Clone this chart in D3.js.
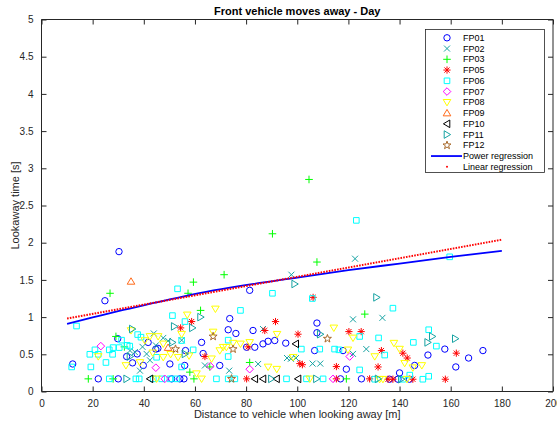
<!DOCTYPE html>
<html><head><meta charset="utf-8">
<script src="https://cdn.jsdelivr.net/npm/d3@7"></script>
<style>body{margin:0;background:#fff}svg{display:block;font-family:"Liberation Sans",Arial,sans-serif}</style>
</head><body><svg id="c" width="557" height="424"></svg>
<script>
const title = "Front vehicle moves away - Day";
const xLabel = "Distance to vehicle when looking away [m]";
const yLabel = "Lookaway time [s]";
const xTicks = [0,20,40,60,80,100,120,140,160,180,200];
const yTicks = [0,0.5,1,1.5,2,2.5,3,3.5,4,4.5,5];
const seriesNames = ["FP01","FP02","FP03","FP05","FP06","FP07","FP08","FP09","FP10","FP11","FP12"];

const FP01 = [[30.3,1.88],[24.8,1.22],[81.4,1.36],[107.7,0.92],[73.6,0.98],[73,0.83],[82.7,0.82],[76,0.78],[107.7,0.79],[88.6,0.675],[91.2,0.685],[95.5,0.65],[62.6,0.66],[106.8,0.55],[117.9,0.55],[69.7,0.35],[56,0.35],[56.3,0.55],[63.2,0.51],[119.2,0.30],[12.2,0.37],[29.8,0.71],[41.7,0.66],[33.3,0.47],[35.6,0.385],[39.8,0.35],[44.7,0.57],[37.4,0.505],[50.2,0.37],[157.7,0.57],[151.1,0.49],[172.6,0.55],[167,0.45],[145.9,0.35],[162,0.33],[140,0.25],[54.1,0.17],[116.9,0.17],[125.1,0.17],[136.1,0.165],[139.4,0.165],[143.9,0.165],[22.2,0.17],[30,0.17],[50.9,0.17],[55.7,0.17],[86.6,0.64],[83.4,0.595],[80.2,0.595],[45.5,0.58]];
const FP02 = [[122.6,1.785],[97.7,1.57],[133.3,0.99],[121.8,0.97],[86.6,0.84],[127,0.57],[96,0.45],[97.5,0.44],[99.5,0.45],[106,0.375],[109,0.375],[121.8,0.505],[84.7,0.37],[73.4,0.28],[63.9,0.35],[54.8,0.69],[43.9,0.78],[47.6,0.72],[44.7,0.62],[34.6,0.55],[36.5,0.53],[41.1,0.505],[42.4,0.42],[38.5,0.28],[49.5,0.68],[39.5,0.6]];
const FP03 = [[104.6,2.85],[90.3,2.12],[107.7,1.74],[71.4,1.57],[59.4,1.47],[57.3,1.32],[26.8,1.32],[62.2,1.09],[126.4,1.04],[29.1,0.74],[32.4,0.60],[81.4,0.39],[65.8,0.33],[58,0.26],[18.3,0.17],[28,0.17],[59.6,0.17],[119.2,0.17]];
const FP05 = [[106.2,1.265],[58.7,0.94],[91.5,0.94],[54.4,0.855],[87.3,0.82],[100.3,0.77],[120.2,0.805],[125,0.805],[80.8,0.60],[63.9,0.47],[101,0.375],[102,0.36],[115.3,0.335],[132.9,0.55],[162.2,0.515],[141.3,0.515],[143,0.45],[131.6,0.33],[80.2,0.17],[115.3,0.17],[128.3,0.17],[135.5,0.165],[137.4,0.165],[145.2,0.165],[157.9,0.165]];
const FP06 = [[123.1,2.30],[159.6,1.81],[53.2,1.38],[90.3,1.32],[105.9,1.25],[137.4,1.12],[77.8,1.09],[51.2,1.02],[56.1,0.94],[13.7,0.88],[124.4,0.74],[54.8,0.685],[73,0.69],[101.6,0.57],[108.8,0.57],[114.6,0.57],[116.3,0.56],[59.3,0.56],[124.4,0.29],[73,0.47],[151.4,0.83],[131.8,0.72],[145.4,0.66],[154.4,0.61],[134.2,0.49],[144,0.22],[151.4,0.205],[37.6,0.765],[38.9,0.73],[31.3,0.69],[30.4,0.59],[28,0.59],[26.5,0.56],[27.8,0.50],[25.2,0.39],[20.9,0.56],[22.2,0.50],[18.9,0.50],[19.3,0.33],[11.8,0.33],[45,0.46],[54.8,0.33],[26.5,0.17],[36.9,0.17],[38.2,0.17],[43.7,0.17],[47,0.17],[50.2,0.17],[52.8,0.17],[68.4,0.17],[73,0.17],[75.6,0.17],[95.8,0.17],[103.6,0.17],[110.1,0.17],[130.3,0.165],[141.3,0.165],[149.1,0.165],[33.5,0.62],[34.5,0.61]];
const FP07 = [[23.2,0.61],[44.7,0.32],[120.5,0.47],[81.4,0.30],[48.2,0.17],[66,0.34],[114,0.17]];
const FP08 = [[68,1.11],[57,1.03],[114.3,0.855],[92.1,0.77],[121.8,0.72],[67.1,0.80],[119.8,0.56],[130.3,0.47],[88.6,0.33],[66.5,0.44],[60.6,0.24],[57.7,0.48],[54.8,0.77],[137.8,0.65],[140,0.57],[142,0.38],[145.2,0.32],[148.7,0.35],[35,0.82],[40.4,0.685],[42.4,0.74],[45.6,0.74],[47.6,0.64],[47.6,0.46],[53.4,0.46],[38.5,0.39],[33,0.35],[22.2,0.47],[81.4,0.66],[77.8,0.64],[74.9,0.65],[72.3,0.595],[71,0.595],[69.7,0.55],[92,0.3],[98.4,0.46],[45,0.17],[62.6,0.17],[104.9,0.17],[132.2,0.165],[133.5,0.165],[142.9,0.165],[43.5,0.52],[50.5,0.5]];
const FP09 = [[35,1.48],[49.5,0.59]];
const FP10 = [[99.4,0.64],[42.4,0.17],[83.4,0.17],[86.6,0.17],[91.9,0.17],[100.3,0.17]];
const FP11 = [[99,1.445],[131,1.265],[35.5,0.84],[51.9,0.875],[51.2,0.66],[62.2,1.0],[59,0.855],[109,0.77],[56.1,0.505],[34.6,0.47],[152.8,0.74],[151,0.66],[161.8,0.71],[33.3,0.17],[89.9,0.17],[107.5,0.17],[131.6,0.17],[140.7,0.165]];
const FP12 = [[52.4,0.57],[67.1,0.74],[111.8,0.71],[74.9,0.57],[74.3,0.17]];

const powerX = [10,20,30,44,57,81,100,120,140,160,180];
const powerY = [0.91,0.995,1.08,1.19,1.29,1.435,1.53,1.63,1.72,1.81,1.89];
const linearX = [10,180];
const linearY = [0.98,2.04];

const seriesData = [FP01,FP02,FP03,FP05,FP06,FP07,FP08,FP09,FP10,FP11,FP12];
const seriesColor = ["#0000ff","#17a3a3","#00ff00","#ff0000","#00ffff","#ff00ff","#ffff00","#ff6a1a","#000000","#17a3a3","#a86a2c"];
const seriesMarker = ["circle","x","plus","asterisk","square","diamond","tridown","triup","trileft","triright","star"];

function markerPath(t){
  switch(t){
    case "circle": return "M3.2,0A3.2,3.2 0 1,1 -3.2,0A3.2,3.2 0 1,1 3.2,0Z";
    case "x": return "M-3,-3L3,3M-3,3L3,-3";
    case "plus": return "M-3.8,0L3.8,0M0,-3.8L0,3.8";
    case "asterisk": return "M-3.6,0L3.6,0M0,-3.6L0,3.6M-2.6,-2.6L2.6,2.6M-2.6,2.6L2.6,-2.6";
    case "square": return "M-2.8,-2.8L2.8,-2.8L2.8,2.8L-2.8,2.8Z";
    case "diamond": return "M0,-3.8L3.8,0L0,3.8L-3.8,0Z";
    case "tridown": return "M-3.8,-2.8L3.8,-2.8L0,3.6Z";
    case "triup": return "M-3.8,2.8L3.8,2.8L0,-3.6Z";
    case "trileft": return "M2.8,-3.8L2.8,3.8L-3.6,0Z";
    case "triright": return "M-2.8,-3.8L-2.8,3.8L3.6,0Z";
    case "star": {
      let p=[];for(let i=0;i<10;i++){const r=i%2?1.7:4.2;const a=-Math.PI/2+i*Math.PI/5;p.push([r*Math.cos(a),r*Math.sin(a)]);}
      return "M"+p.map(d=>d[0].toFixed(2)+","+d[1].toFixed(2)).join("L")+"Z";
    }
  }
}

const svg = d3.select("#c");
const L=41.5,R=553,T=19.5,B=391.5;
const x = d3.scaleLinear().domain([0,200]).range([L,R]);
const y = d3.scaleLinear().domain([0,5]).range([B,T]);
const axisCol="#262626";

svg.append("defs").append("clipPath").attr("id","clip").append("rect").attr("x",L).attr("y",T).attr("width",R-L).attr("height",B-T);

const gx = svg.append("g").attr("transform",`translate(0,${B})`)
  .call(d3.axisBottom(x).tickValues(xTicks).tickSize(-5).tickPadding(8).tickFormat(d3.format("d")));
const gxt = svg.append("g").attr("transform",`translate(0,${T})`)
  .call(d3.axisTop(x).tickValues(xTicks).tickSize(-5).tickFormat(""));
const gy = svg.append("g").attr("transform",`translate(${L},0)`)
  .call(d3.axisLeft(y).tickValues(yTicks).tickSize(-5).tickPadding(8).tickFormat(d=>String(d)));
const gyr = svg.append("g").attr("transform",`translate(${R},0)`)
  .call(d3.axisRight(y).tickValues(yTicks).tickSize(-5).tickFormat(""));
[gx,gxt,gy,gyr].forEach(g=>{
  g.selectAll("path.domain").attr("stroke",axisCol).attr("stroke-width",1);
  g.selectAll("line").attr("stroke",axisCol);
  g.selectAll("text").attr("fill",axisCol).attr("font-size",10).attr("font-family","Liberation Sans, Arial, sans-serif");
});
gx.selectAll(".domain").attr("d",`M${L},0H${R}`);
gxt.selectAll(".domain").attr("d",`M${L},0H${R}`);
gy.selectAll(".domain").attr("d",`M0,${B}V${T}`);
gyr.selectAll(".domain").attr("d",`M0,${B}V${T}`);
gx.selectAll("text").attr("dy","0.71em").attr("y",8);

svg.append("text").attr("x",(L+R)/2).attr("y",15).attr("text-anchor","middle")
  .attr("font-size",11).attr("font-weight","bold").attr("fill","#000").text(title);
svg.append("text").attr("x",(L+R)/2).attr("y",418).attr("text-anchor","middle")
  .attr("font-size",11).attr("fill",axisCol).text(xLabel);
svg.append("text").attr("transform",`translate(19,${(T+B)/2}) rotate(-90)`).attr("text-anchor","middle")
  .attr("font-size",11).attr("fill",axisCol).text(yLabel);

const plot = svg.append("g").attr("clip-path","url(#clip)");
seriesData.forEach((data,i)=>{
  plot.append("g").selectAll("path").data(data).join("path")
    .attr("transform",d=>`translate(${x(d[0])},${y(d[1])})`)
    .attr("d",markerPath(seriesMarker[i]))
    .attr("fill","none").attr("stroke",seriesColor[i]).attr("stroke-width",1);
});

const powerPts = powerX.map((v,i)=>[v,powerY[i]]);
const linPts = linearX.map((v,i)=>[v,linearY[i]]);
plot.append("path").datum(powerPts)
  .attr("d",d3.line().x(d=>x(d[0])).y(d=>y(d[1])).curve(d3.curveMonotoneX))
  .attr("fill","none").attr("stroke","#0000ff").attr("stroke-width",1.8);
plot.append("path").datum(linPts)
  .attr("d",d3.line().x(d=>x(d[0])).y(d=>y(d[1])))
  .attr("fill","none").attr("stroke","#ff0000").attr("stroke-width",2).attr("stroke-dasharray","1.6,1.2");

const lg = svg.append("g");
lg.append("rect").attr("x",425.5).attr("y",29.5).attr("width",119).attr("height",143)
  .attr("fill","#fff").attr("stroke",axisCol).attr("stroke-width",0.8);
const legendNames = seriesNames.concat(["Power regression","Linear regression"]);
legendNames.forEach((n,i)=>{
  const yy = 37.8 + i*10.75;
  if(i<seriesNames.length){
    lg.append("path").attr("transform",`translate(447,${yy})`).attr("d",markerPath(seriesMarker[i]))
      .attr("fill","none").attr("stroke",seriesColor[i]).attr("stroke-width",1);
  } else if(n==="Power regression"){
    lg.append("line").attr("x1",431).attr("x2",462).attr("y1",yy).attr("y2",yy).attr("stroke","#0000ff").attr("stroke-width",1.8);
  } else {
    lg.append("circle").attr("cx",447).attr("cy",yy).attr("r",1).attr("fill","#ff0000");
  }
  lg.append("text").attr("x",463).attr("y",yy).attr("dy","0.35em").attr("font-size",9).attr("fill","#000").text(n);
});
</script></body></html>
